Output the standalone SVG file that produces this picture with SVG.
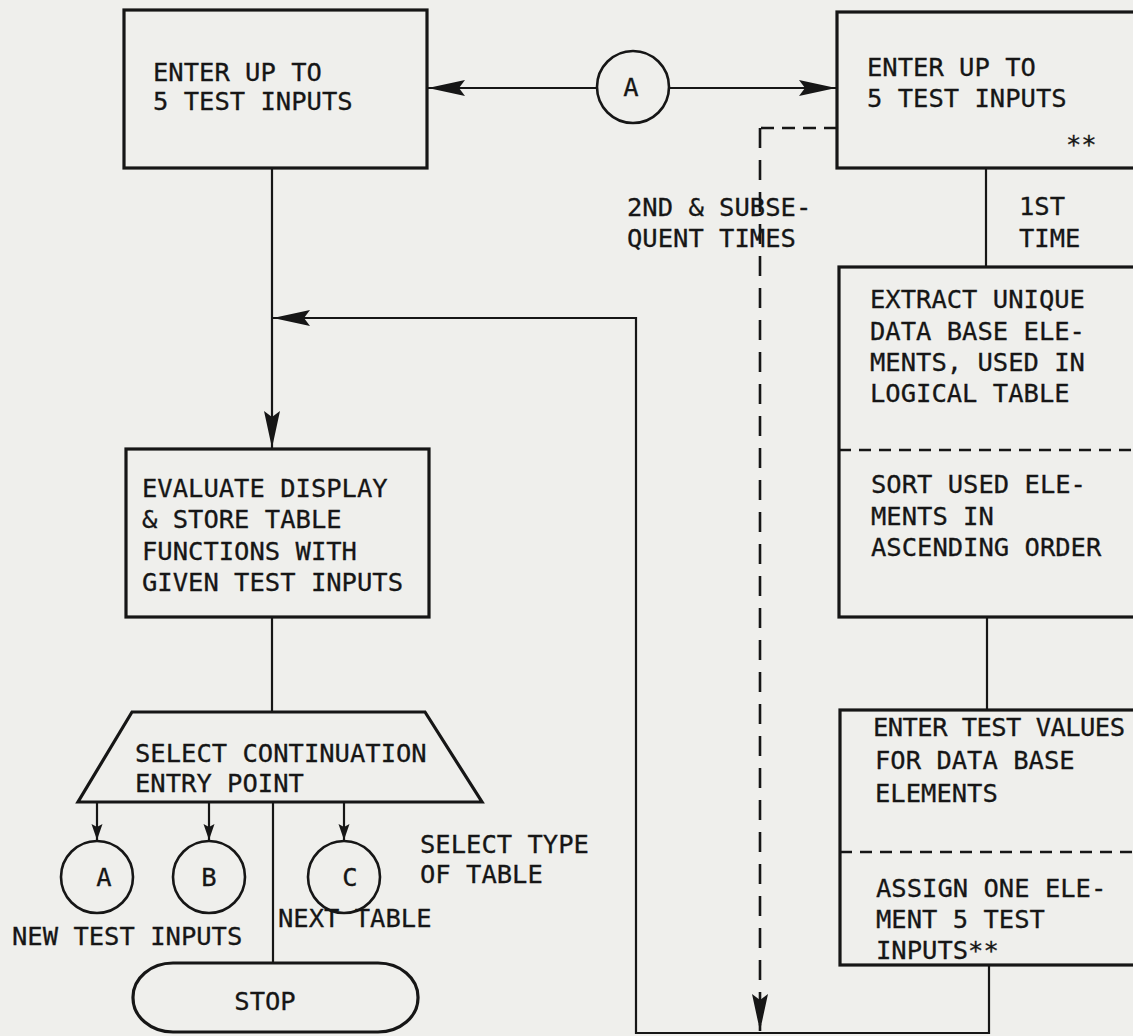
<svg xmlns="http://www.w3.org/2000/svg" width="1133" height="1036" viewBox="0 0 1133 1036">
<style>
.t{font-family:"DejaVu Sans Mono","Liberation Mono",monospace;font-size:25.5px;fill:#161616;stroke:#161616;stroke-width:0.3}
.box{fill:none;stroke:#161616;stroke-width:3.2}
.ln{fill:none;stroke:#161616;stroke-width:2.2}
.dash{fill:none;stroke:#161616;stroke-width:2.6}
.div{fill:none;stroke:#161616;stroke-width:2.6;stroke-dasharray:12 8}
.circ{fill:none;stroke:#161616;stroke-width:2.6}
</style>
<defs>
<marker id="big" markerUnits="userSpaceOnUse" markerWidth="40" markerHeight="18" refX="37" refY="8" orient="auto">
<path d="M0,0 L37,8 L0,16 L6,8 z" fill="#161616"/>
</marker>
<marker id="small" markerUnits="userSpaceOnUse" markerWidth="18" markerHeight="12" refX="16" refY="5.5" orient="auto">
<path d="M0,0 L16,5.5 L0,11 L3,5.5 z" fill="#161616"/>
</marker>
</defs>
<rect x="0" y="0" width="1133" height="1036" fill="#efefec"/>

<g id="connectors">
<line class="ln" x1="597" y1="88" x2="428" y2="88" marker-end="url(#big)"/>
<line class="ln" x1="669" y1="88" x2="836" y2="88" marker-end="url(#big)"/>
<line class="ln" x1="272" y1="168" x2="272" y2="448" marker-end="url(#big)"/>
<path class="ln" d="M989,965 V1033 H636 V318 H273" marker-end="url(#big)"/>
<line class="ln" x1="272" y1="617" x2="272" y2="712"/>
<line class="ln" x1="97" y1="802" x2="97" y2="840" marker-end="url(#small)"/>
<line class="ln" x1="209" y1="802" x2="209" y2="840" marker-end="url(#small)"/>
<line class="ln" x1="344" y1="802" x2="344" y2="840" marker-end="url(#small)"/>
<line class="ln" x1="273" y1="802" x2="273" y2="963"/>
<line class="ln" x1="986" y1="168" x2="986" y2="267"/>
<line class="ln" x1="987" y1="617" x2="987" y2="710"/>
<path class="dash" d="M837,128 H760" stroke-dasharray="13 8"/>
<path class="dash" d="M760,128 V1031" stroke-dasharray="20 12" marker-end="url(#big)"/>
</g>

<g id="labels">
<text class="t" x="627" y="216">2ND &amp; SUBSE-</text>
<text class="t" x="627" y="247">QUENT TIMES</text>
<text class="t" x="1019" y="215">1ST</text>
<text class="t" x="1019" y="247">TIME</text>
<text class="t" x="12" y="945">NEW TEST INPUTS</text>
<text class="t" x="278" y="927">NEXT TABLE</text>
<text class="t" x="420" y="853">SELECT TYPE</text>
<text class="t" x="420" y="883">OF TABLE</text>
</g>

<g id="node-enter-left">
<rect class="box" x="124" y="10" width="303" height="158"/>
<text class="t" x="153" y="81">ENTER UP TO</text>
<text class="t" x="153" y="110">5 TEST INPUTS</text>
</g>

<g id="node-connector-a-top">
<circle class="circ" cx="633" cy="87" r="36"/>
<text class="t" x="631" y="96" text-anchor="middle">A</text>
</g>

<g id="node-enter-right">
<rect class="box" x="837" y="12" width="310" height="156"/>
<text class="t" x="867" y="76">ENTER UP TO</text>
<text class="t" x="867" y="107">5 TEST INPUTS</text>
<text class="t" x="1066" y="153">**</text>
</g>

<g id="node-extract">
<rect class="box" x="839" y="267" width="310" height="350"/>
<line class="div" x1="839" y1="450" x2="1140" y2="450"/>
<text class="t" x="870" y="308">EXTRACT UNIQUE</text>
<text class="t" x="870" y="340">DATA BASE ELE-</text>
<text class="t" x="870" y="371">MENTS, USED IN</text>
<text class="t" x="870" y="402">LOGICAL TABLE</text>
<text class="t" x="871" y="493">SORT USED ELE-</text>
<text class="t" x="871" y="525">MENTS IN</text>
<text class="t" x="871" y="556">ASCENDING ORDER</text>
</g>

<g id="node-enter-values">
<rect class="box" x="840" y="710" width="310" height="255"/>
<line class="div" x1="840" y1="852" x2="1140" y2="852" stroke-dasharray="16 11"/>
<text class="t" x="873" y="736" textLength="252" lengthAdjust="spacing">ENTER TEST VALUES</text>
<text class="t" x="875" y="769">FOR DATA BASE</text>
<text class="t" x="875" y="802">ELEMENTS</text>
<text class="t" x="876" y="897">ASSIGN ONE ELE-</text>
<text class="t" x="876" y="928">MENT 5 TEST</text>
<text class="t" x="876" y="959">INPUTS**</text>
</g>

<g id="node-evaluate">
<rect class="box" x="126" y="449" width="303" height="168"/>
<text class="t" x="142" y="497">EVALUATE DISPLAY</text>
<text class="t" x="142" y="528">&amp; STORE TABLE</text>
<text class="t" x="142" y="560">FUNCTIONS WITH</text>
<text class="t" x="142" y="591">GIVEN TEST INPUTS</text>
</g>

<g id="node-select">
<polygon class="box" points="132,712 425,712 482,802 78,802"/>
<text class="t" x="135" y="762">SELECT CONTINUATION</text>
<text class="t" x="135" y="792">ENTRY POINT</text>
</g>

<g id="node-a">
<circle class="circ" cx="97" cy="877" r="36"/>
<text class="t" x="104" y="886" text-anchor="middle">A</text>
</g>
<g id="node-b">
<circle class="circ" cx="209" cy="877" r="36"/>
<text class="t" x="209" y="886" text-anchor="middle">B</text>
</g>
<g id="node-c">
<circle class="circ" cx="344" cy="877" r="36"/>
<text class="t" x="350" y="886" text-anchor="middle">C</text>
</g>

<g id="node-stop">
<rect class="box" x="133" y="963" width="285" height="69" rx="40" ry="34"/>
<text class="t" x="265" y="1010" text-anchor="middle">STOP</text>
</g>
</svg>
